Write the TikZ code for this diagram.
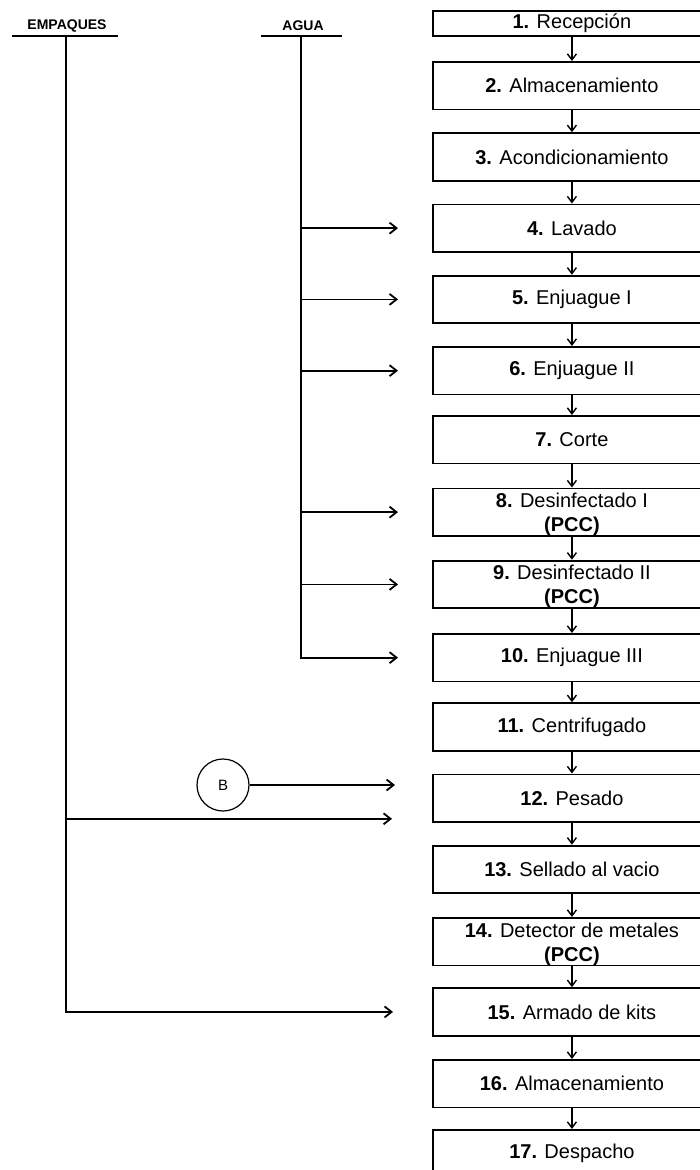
\documentclass[tikz,border=0pt]{standalone}
\usepackage{fontspec}
\setmainfont{Liberation Sans}
\usetikzlibrary{arrows.meta,calc}
\begin{document}
\begin{tikzpicture}[x=1pt,y=-1pt,
  stage/.style={draw,line width=1.8pt,anchor=north west,minimum width=278pt,
    minimum height=47.5pt,inner sep=0pt,align=center,
    font=\fontsize{20}{26}\selectfont},
  twoline/.style={text depth=-3pt},
  flow/.style={line width=1.4pt,-{Straight Barb[length=6pt,width=9pt,line width=1.4pt]}},
  feed/.style={line width=1.8pt,-{Straight Barb[length=7pt,width=11pt,line width=1.8pt]}},
  trunk/.style={line width=1.8pt},
  head/.style={font=\fontsize{14}{14}\selectfont\bfseries,inner sep=0pt}]
\useasboundingbox (0,0) rectangle (700,1170);
\clip (0,0) rectangle (700,1170);

% process stages
\node[stage,minimum height=25pt] (b1) at (432,10) {\textbf{1.} Recepción};
\node[stage] (b2)  at (432,61)     {\textbf{2.} Almacenamiento};
\node[stage] (b3)  at (432,132.25) {\textbf{3.} Acondicionamiento};
\node[stage] (b4)  at (432,203.5)  {\textbf{4.} Lavado};
\node[stage] (b5)  at (432,274.75) {\textbf{5.} Enjuague I};
\node[stage] (b6)  at (432,346)    {\textbf{6.} Enjuague II};
\node[stage] (b7)  at (432,415)    {\textbf{7.} Corte};
\node[stage] (b8)  at (432,487.5)  {};
\node[stage] (b9)  at (432,559.75) {};
\node[stage] (b10) at (432,633)    {\textbf{10.} Enjuague III};
\node[stage] (b11) at (432,702.25) {\textbf{11.} Centrifugado};
\node[stage] (b12) at (432,773.5)  {\textbf{12.} Pesado};
\node[stage] (b13) at (432,844.75) {\textbf{13.} Sellado al vacio};
\node[stage] (b14) at (432,917)    {};
\node[stage] (b15) at (432,987.25) {\textbf{15.} Armado de kits};
\node[stage] (b16) at (432,1059)   {\textbf{16.} Almacenamiento};
\node[stage] (b17) at (432,1129)   {\textbf{17.} Despacho};

% two-line labels of the control points
\foreach \s/\t in {b8/{\textbf{8.} Desinfectado I},
                   b9/{\textbf{9.} Desinfectado II},
                   b14/{\textbf{14.} Detector de metales}}{
  \node[font=\fontsize{20}{20}\selectfont,inner sep=0pt] (\s t) at ($(\s.north)+(0,13)$) {\t};
  \node[font=\fontsize{20}{20}\selectfont\bfseries,inner sep=0pt] (\s p) at ($(\s.north)+(0,39)$) {(PCC)};
}

% main sequence
\foreach \a/\b in {b1/b2,b2/b3,b3/b4,b4/b5,b5/b6,b6/b7,b7/b8,b8/b9,b9/b10,
                   b10/b11,b11/b12,b12/b13,b13/b14,b14/b15,b15/b16,b16/b17}
  \draw[flow] (\a.south) -- (\b.north);

% water supply line
\node[head] (lagua) at (303,26) {AGUA};
\coordinate (agua) at (301,36);
\draw[trunk] ($(agua)+(-40,0)$) -- ($(agua)+(41,0)$);
\draw[feed,shorten >=34pt] (agua) |- (b10.west);
\foreach \s in {b4,b5,b6,b8,b9}
  \draw[feed,shorten >=34pt] (agua |- \s.west) -- (\s.west);

% packaging supply line
\node[head] (lemp) at (67,26) {EMPAQUES};
\coordinate (emp) at (66,36);
\draw[trunk] ($(emp)+(-54,0)$) -- ($(emp)+(52,0)$);
\draw[feed,shorten >=39pt] (emp) |- (b15.west);
\coordinate (e12) at ($(b12.south west)+(0,-4)$);
\draw[feed,shorten >=40pt] (emp |- e12) -- (e12);

% connector B
\node[draw,circle,line width=1.2pt,minimum size=52pt,inner sep=0pt,
      font=\fontsize{15}{15}\selectfont] (cB) at (223,785) {B};
\draw[feed,shorten >=37pt] (cB.east) -- (cB.east -| b12.west);
\end{tikzpicture}
\end{document}
